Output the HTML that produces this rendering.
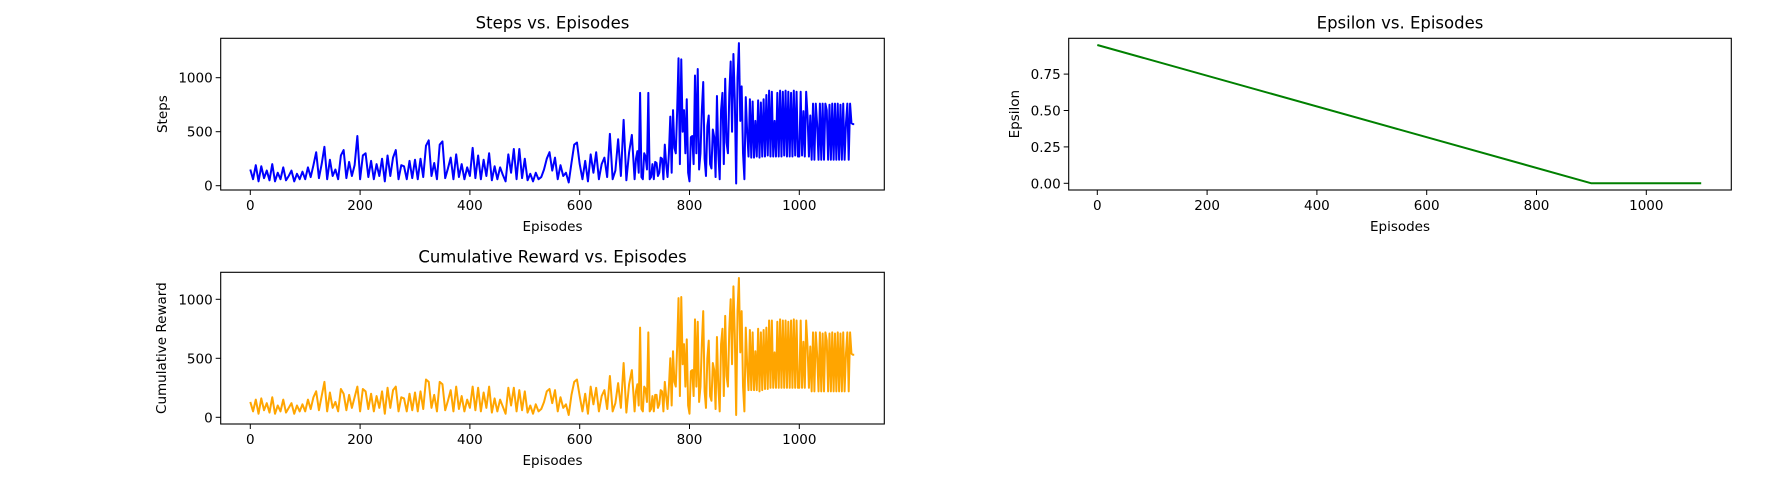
<!DOCTYPE html>
<html><head><meta charset="utf-8"><style>
html,body{margin:0;padding:0;background:#fff}
svg{display:block;font-family:"DejaVu Sans","Liberation Sans",sans-serif}
</style></head><body>
<svg id="fig" width="1773" height="483" viewBox="0 0 1773 483" xmlns="http://www.w3.org/2000/svg"></svg>
<script>
const earlyStep = 5;      // episodes 0..695
const lateStart = 700;
const lateStep = 2.5;     // episodes 700..1100
const stepsEarly = [150,60,190,40,180,70,140,50,200,40,120,60,170,50,90,140,40,110,60,130,
60,170,80,190,310,70,200,360,60,240,90,150,60,280,330,70,220,90,190,460,
60,280,300,80,230,60,200,90,250,40,280,90,260,330,60,190,180,60,230,70,
240,60,250,80,370,420,90,210,60,380,410,70,160,260,60,290,80,200,60,170,
90,350,70,280,60,240,90,300,50,180,60,170,100,40,290,120,340,60,340,70,
250,50,110,40,120,60,80,150,250,310,140,260,60,190,90,120,30,210,380,400,
200,60,230,40,290,120,310,60,200,260,80,480,60,140,430,90,610,50,310,470];
const stepsLate = [60,250,320,120,860,80,60,300,270,150,860,60,80,200,60,220,210,90,120,260,250,60,380,200,80,300,640,120,700,350,300,690,1180,200,1170,500,700,300,800,120,
40,450,460,200,1020,300,1080,150,300,700,960,250,90,550,650,200,160,520,450,80,830,300,60,700,860,200,990,400,300,850,1150,500,1220,800,20,1000,1320,600,920,300,
60,820,500,270,800,260,780,260,600,270,790,260,770,270,800,270,840,280,880,270,870,270,600,270,860,270,880,270,870,280,880,270,870,270,860,270,880,280,870,270,
270,870,280,690,270,870,650,270,650,240,760,240,760,570,240,760,240,760,240,760,700,240,750,240,760,240,760,240,760,240,750,240,760,240,580,760,240,760,580,570,570];
const rewardEarly = [130,50,150,30,160,60,120,40,170,30,100,50,150,40,80,120,30,100,50,110,
50,150,70,170,220,60,180,300,50,210,80,130,50,240,200,60,190,80,170,260,
50,240,220,70,200,50,180,80,220,30,250,80,230,260,50,170,160,50,200,60,
210,50,220,70,320,300,80,190,50,300,280,60,140,230,50,260,70,180,50,150,
80,260,60,250,50,210,80,260,40,160,50,150,90,30,250,100,250,50,230,60,
220,40,100,30,110,50,70,130,220,240,120,230,50,170,80,110,20,190,300,320,
180,50,200,30,260,110,250,50,180,230,70,350,50,120,290,80,460,40,280,400];
const rewardLate = [50,220,280,100,760,70,50,260,240,130,720,50,70,180,50,190,190,80,110,230,220,50,300,180,70,260,500,100,560,300,260,600,1010,180,1020,450,620,260,660,100,
30,390,400,180,830,260,810,130,260,620,900,220,80,500,650,180,140,460,400,70,680,260,50,620,750,180,860,350,260,750,1000,450,1110,700,20,900,1180,550,900,260,
50,760,450,230,740,230,720,230,560,230,750,220,720,230,740,240,760,240,820,250,820,250,550,250,810,250,830,250,820,250,820,250,810,250,820,250,830,250,820,250,
250,820,250,640,250,820,600,250,600,220,720,220,720,530,220,720,220,710,220,720,650,220,710,220,720,220,710,220,720,220,710,220,720,220,540,720,220,720,540,530,530];
const epsilonEpisodes = [0,900,1100];
const epsilonValues = [0.95,0,0];
const xTicks = [0,200,400,600,800,1000];
const stepsYTicks = [0,500,1000];
const rewardYTicks = [0,500,1000];
const epsYTicks = [0,0.25,0.5,0.75];
const epsYLabels = ["0.00","0.25","0.50","0.75"];

const NS="http://www.w3.org/2000/svg";
const svg=document.getElementById('fig');
function mk(tag,attrs,parent){const e=document.createElementNS(NS,tag);for(const k in attrs)e.setAttribute(k,attrs[k]);(parent||svg).appendChild(e);return e;}

function episodesFor(early,late){
  return early.map((_,i)=>i*earlyStep).concat(late.map((_,j)=>lateStart+j*lateStep));
}

function axes(cfg){
  const g=mk('g',{});
  
  
  const xs=v=>cfg.x0+cfg.kx*v, ys=v=>cfg.y0-cfg.ky*v;
  const pts=cfg.xs.map((x,i)=>xs(x).toFixed(2)+','+ys(cfg.ys[i]).toFixed(2)).join(' ');
  const clip='clip-'+cfg.name;
  const cp=mk('clipPath',{id:clip},g);mk('rect',{x:cfg.L,y:cfg.T,width:cfg.R-cfg.L,height:cfg.B-cfg.T},cp);
  const line=mk('polyline',{points:pts,fill:'none',stroke:cfg.color,'stroke-width':2,'stroke-linejoin':'round','clip-path':'url(#'+clip+')'},g);
  
  
  const fr=mk('rect',{x:cfg.L,y:cfg.T,width:cfg.R-cfg.L,height:cfg.B-cfg.T,fill:'none',stroke:'#000','stroke-width':1.1},g);
  
  
  xTicks.forEach(t=>{const x=xs(t);
    mk('line',{x1:x,x2:x,y1:cfg.B,y2:cfg.B+5,stroke:'#000','stroke-width':1},g);
    const tx=mk('text',{x:x,y:cfg.B+20,'text-anchor':'middle','font-size':13.5,fill:'#000'},g);tx.textContent=t;
    
    
  });
  cfg.yt.forEach((t,i)=>{const y=ys(t);
    mk('line',{x1:cfg.L-5,x2:cfg.L,y1:y,y2:y,stroke:'#000','stroke-width':1},g);
    const tx=mk('text',{x:cfg.L-8,y:y+5,'text-anchor':'end','font-size':13.5,fill:'#000'},g);tx.textContent=cfg.yl?cfg.yl[i]:t;
    
    
  });
  const cx=(cfg.L+cfg.R)/2;
  const ti=mk('text',{x:cx,y:cfg.T-10,'text-anchor':'middle','font-size':16.5,fill:'#000'},g);ti.textContent=cfg.title;
  
  
  const xl=mk('text',{x:cx,y:cfg.B+41,'text-anchor':'middle','font-size':13.5,fill:'#000'},g);xl.textContent='Episodes';
  
  
  const ym=(cfg.T+cfg.B)/2;
  const yl=mk('text',{x:cfg.ylx,y:ym,'text-anchor':'middle','font-size':13.5,fill:'#000',transform:'rotate(-90 '+cfg.ylx+' '+ym+')'},g);yl.textContent=cfg.ylabel;
  
  
}
axes({name:'steps-chart',L:220.7,R:884.3,T:38.3,B:190,x0:250.3,kx:0.549,y0:185.7,ky:0.108,xs:episodesFor(stepsEarly,stepsLate),ys:stepsEarly.concat(stepsLate),color:'#0000ff',yt:stepsYTicks,title:'Steps vs. Episodes',ylabel:'Steps',ylx:167});
axes({name:'reward-chart',L:220.7,R:884.3,T:272.3,B:424,x0:250.3,kx:0.549,y0:417.3,ky:0.118,xs:episodesFor(rewardEarly,rewardLate),ys:rewardEarly.concat(rewardLate),color:'#ffa500',yt:rewardYTicks,title:'Cumulative Reward vs. Episodes',ylabel:'Cumulative Reward',ylx:166});
axes({name:'epsilon-chart',L:1068.7,R:1731.3,T:38.3,B:190,x0:1097.3,kx:0.549,y0:183.3,ky:145.6,xs:epsilonEpisodes,ys:epsilonValues,color:'#008000',yt:epsYTicks,yl:epsYLabels,title:'Epsilon vs. Episodes',ylabel:'Epsilon',ylx:1019});
</script>
</body></html>
